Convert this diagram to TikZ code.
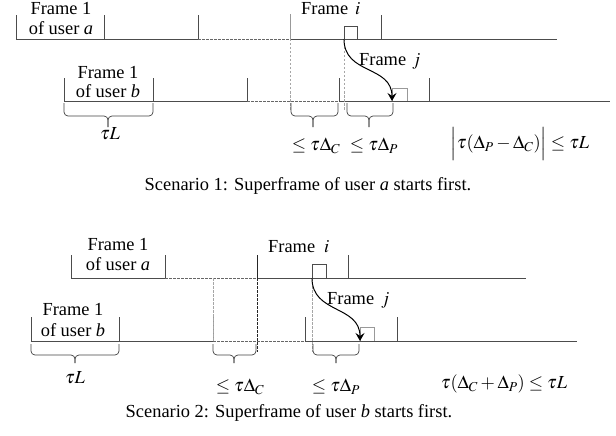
\documentclass[tikz,border=0pt]{standalone}
\usepackage{mathptmx}
\usepackage{fontspec}
\setmainfont{Liberation Serif}
\usetikzlibrary{arrows.meta}
\begin{document}
\begin{tikzpicture}[x=1pt,y=-1pt,
 tl/.style={line width=0.8pt, draw=black!70},
 lt/.style={line width=0.8pt, draw=black!40},
 dl/.style={line width=0.8pt, draw=black!60, dash pattern=on 2.5pt off 1.5pt},
 dlg/.style={line width=0.8pt, draw=black!35, dash pattern=on 2.5pt off 1.5pt},
 brc/.style={line width=0.7pt, draw=black!75, rounded corners=4pt},
 lbl/.style={font=\fontsize{18.4}{20}\selectfont, inner sep=0pt},
 arr/.style={line width=1pt, draw=black, -{Stealth[length=8pt,width=9pt,inset=3pt]}}
]
\useasboundingbox (0,0) rectangle (616,436);

% ---------------- Scenario 1 ----------------
\coordinate (A0) at (16,39);  \coordinate (A1) at (104,39);
\coordinate (A2) at (198,39); \coordinate (A3) at (290,39);
\coordinate (A4) at (344,39); \coordinate (A5) at (381,39);
\coordinate (Aend) at (557,39);
\coordinate (B0) at (64,101);  \coordinate (B1) at (153,101);
\coordinate (B2) at (247,101); \coordinate (B3) at (339,101);
\coordinate (B4) at (392,101); \coordinate (B5) at (429,101);
\coordinate (Bend) at (610,101);
\coordinate (VA) at (290,110); \coordinate (VB) at (344,110);

\draw[tl] (A0) -- (A2);
\draw[dl] (A2) -- (A3);
\draw[tl] (A3) -- (Aend);
\foreach \p in {A0,A1,A2,A5} \draw[tl] (\p) -- ++(0,-24);
\draw[lt] (A3) -- ++(0,-25);
\draw[tl] (A4) -- ++(0,-13) -- ++(13,0) -- ++(0,13);

\draw[tl] (B0) -- (B2);
\draw[dl] (B2) -- (B3);
\draw[tl] (B3) -- (Bend);
\foreach \p in {B0,B1,B2,B3,B5} \draw[tl] (\p) -- ++(0,-23);
\draw[lt] (B4) -- ++(0,-13) -- ++(15,0) -- ++(0,13);

\draw[dlg] (A3) -- (VA);
\draw[dlg] (A4) -- (VB);
\draw[arr] (A4) .. controls (344,75) and (392,65) .. (B4);

\node[lbl,anchor=base] (fa1) at (61,15) {Frame 1};
\node[lbl,anchor=base] (fa2) at (61,35) {of user \textit{a}};
\node[lbl,anchor=base] (fb1) at (108,78) {Frame 1};
\node[lbl,anchor=base] (fb2) at (108,97) {of user \textit{b}};
\node[lbl,anchor=base west] (fi1) at (301,15) {Frame\hspace{7pt}$i$};
\node[lbl,anchor=base west] (fj1) at (359,66) {Frame\hspace{6pt}$j$};

\draw[brc] (64,103) -- (64,116) -- (108,116) -- (108,127);
\draw[brc] (153,103) -- (153,116) -- (108,116) -- (108,127);
\draw[brc] (291,103) -- (291,116) -- (313,116) -- (313,127);
\draw[brc] (338,103) -- (338,116) -- (313,116) -- (313,127);
\draw[brc] (347,103) -- (347,116) -- (369,116) -- (369,127);
\draw[brc] (393,103) -- (393,116) -- (369,116) -- (369,127);

\node[lbl] (tl1) at (110,134) {$\tau L$};
\node[lbl] (dc1) at (316,146) {$\le\tau\Delta_C$};
\node[lbl] (dp1) at (374,146) {$\le\tau\Delta_P$};
\node[lbl] (cond1) at (520,144) {$\Bigl|\tau(\Delta_P-\Delta_C)\Bigr|\le\tau L$};
\node[lbl] (cap1) at (308,186) {Scenario 1: Superframe of user \textit{a} starts first.};

% ---------------- Scenario 2 ----------------
\coordinate (C0) at (71,278);  \coordinate (C1) at (165,278);
\coordinate (V1) at (213,278); \coordinate (C2) at (257,278);
\coordinate (C3) at (312,278); \coordinate (C4) at (348,278);
\coordinate (Cend) at (526,278);
\coordinate (D0) at (31,341);  \coordinate (D1) at (119,341);
\coordinate (D2) at (213,341); \coordinate (D3) at (305,341);
\coordinate (D4) at (360,341); \coordinate (D5) at (397,341);
\coordinate (Dend) at (577,341);
\coordinate (VC) at (257,352); \coordinate (VD) at (312,352);

\draw[tl] (C0) -- (C1);
\draw[dl] (C1) -- (C2);
\draw[tl] (C2) -- (Cend);
\foreach \p in {C0,C1,C4} \draw[tl] (\p) -- ++(0,-23);
\draw[line width=0.8pt,black!85] (C2) -- ++(0,-23);
\draw[tl] (C3) -- ++(0,-14) -- ++(14,0) -- ++(0,14);

\draw[tl] (D0) -- (D2);
\draw[dl] (D2) -- (D3);
\draw[tl] (D3) -- (Dend);
\foreach \p in {D0,D1,D3,D5} \draw[tl] (\p) -- ++(0,-24);
\draw[lt] (D2) -- ++(0,-24);
\draw[lt] (D4) -- ++(0,-14) -- ++(14,0) -- ++(0,14);

\draw[dlg] (V1) -- (D2);
\draw[line width=0.8pt, draw=black!85, dash pattern=on 2.5pt off 1.5pt] (C2) -- (VC);
\draw[dlg] (C3) -- (VD);
\draw[arr] (C3) .. controls (312,314) and (360,305) .. (D4);

\node[lbl,anchor=base] (ga1) at (118,250) {Frame 1};
\node[lbl,anchor=base] (ga2) at (118,270) {of user \textit{a}};
\node[lbl,anchor=base] (gb1) at (73,315) {Frame 1};
\node[lbl,anchor=base] (gb2) at (73,336) {of user \textit{b}};
\node[lbl,anchor=base west] (fi2) at (268,252) {Frame\hspace{9pt}$i$};
\node[lbl,anchor=base west] (fj2) at (327,304) {Frame\hspace{7pt}$j$};

\draw[brc] (31,344) -- (31,355) -- (75,355) -- (75,363);
\draw[brc] (119,344) -- (119,355) -- (75,355) -- (75,363);
\draw[brc] (213,344) -- (213,355) -- (234,355) -- (234,363);
\draw[brc] (256,344) -- (256,355) -- (234,355) -- (234,363);
\draw[brc] (313,344) -- (313,355) -- (336,355) -- (336,363);
\draw[brc] (359,344) -- (359,355) -- (336,355) -- (336,363);

\node[lbl] (tl2) at (75,378) {$\tau L$};
\node[lbl] (dc2) at (240,387) {$\le\tau\Delta_C$};
\node[lbl] (dp2) at (336,387) {$\le\tau\Delta_P$};
\node[lbl] (cond2) at (504,384) {$\tau(\Delta_C+\Delta_P)\le\tau L$};
\node[lbl] (cap2) at (289,413) {Scenario 2: Superframe of user \textit{b} starts first.};
\end{tikzpicture}
\end{document}
